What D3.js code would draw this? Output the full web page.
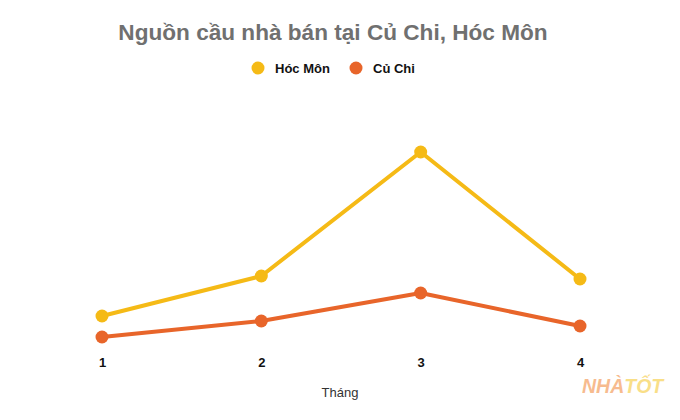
<!DOCTYPE html>
<html><head><meta charset="utf-8">
<script src="https://cdn.jsdelivr.net/npm/d3@7"></script>
<style>body{margin:0;background:#fff}svg{display:block;font-family:"Liberation Sans",Arial,sans-serif}</style>
</head><body>
<script>
const months = ["1","2","3","4"];
const hocMon = [17, 37, 99, 35.5];
const cuChi = [6.5, 14.5, 28.5, 12];
const seriesNames = ["Hóc Môn","Củ Chi"];
const colors = ["#F5BA16","#E8652A"];

const W=680,H=420;
const svg=d3.select("body").append("svg").attr("width",W).attr("height",H);
const x=d3.scalePoint().domain(months).range([102,580]);
const y=d3.scaleLinear().domain([0,100]).range([350,150]);

svg.append("text").attr("x",333).attr("y",40).attr("text-anchor","middle")
  .attr("font-size",22.6).attr("font-weight","bold").attr("fill","#707070")
  .text("Nguồn cầu nhà bán tại Củ Chi, Hóc Môn");

const leg=[{x:258},{x:356}];
seriesNames.forEach((n,i)=>{
  svg.append("circle").attr("cx",leg[i].x).attr("cy",68).attr("r",6.5).attr("fill",colors[i]);
  svg.append("text").attr("x",leg[i].x+17).attr("y",72.5).attr("font-size",13).attr("font-weight","bold").attr("fill","#111").text(n);
});

const data=[hocMon,cuChi];
const line=d3.line().x((d,i)=>x(months[i])).y(d=>y(d));
data.forEach((s,k)=>{
  svg.append("path").datum(s).attr("d",line).attr("fill","none").attr("stroke",colors[k]).attr("stroke-width",4).attr("stroke-linejoin","round");
  svg.selectAll(null).data(s).enter().append("circle")
    .attr("cx",(d,i)=>x(months[i])).attr("cy",d=>y(d)).attr("r",6.5).attr("fill",colors[k]);
});

const ax=svg.append("g").attr("transform","translate(0,350)").call(d3.axisBottom(x).tickSize(0).tickPadding(8));
ax.select(".domain").remove();
ax.selectAll("text").attr("font-size",13).attr("font-weight","bold").attr("fill","#111").attr("font-family","Liberation Sans, Arial, sans-serif");

svg.append("text").attr("x",340).attr("y",397).attr("text-anchor","middle").attr("font-size",13).attr("fill","#333").text("Tháng");

const logo=svg.append("text").attr("x",582).attr("y",393).attr("font-size",19.5).attr("font-weight","bold").attr("font-style","italic").attr("opacity",0.5);
logo.append("tspan").attr("fill","#F07A22").text("NHÀ");
logo.append("tspan").attr("fill","#F5C012").text("TỐT");
</script>
</body></html>
